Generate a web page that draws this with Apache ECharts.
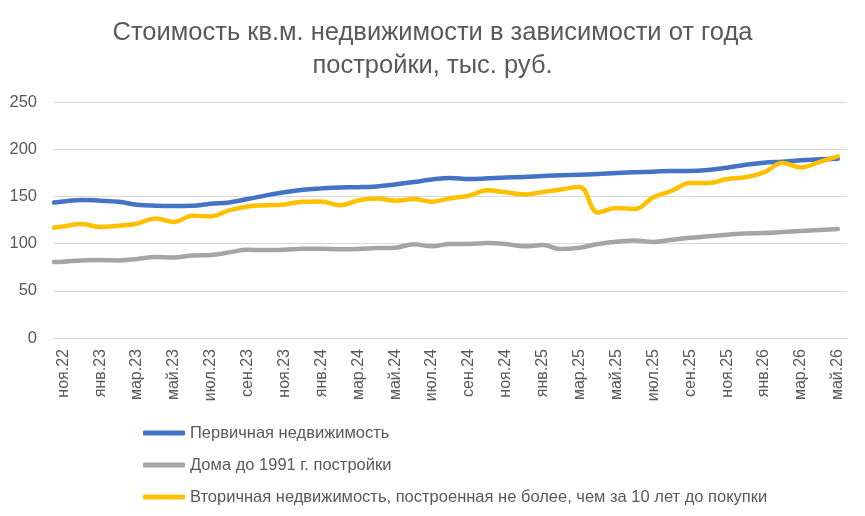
<!DOCTYPE html>
<html><head><meta charset="utf-8">
<script src="https://cdn.jsdelivr.net/npm/echarts@6/dist/echarts.min.js"></script>
<style>html,body{margin:0;padding:0;background:#fff}#c{width:865px;height:516px}</style>
</head><body><div id="c"></div>
<script>
const months = ['ноя.22','дек.22','янв.23','фев.23','мар.23','апр.23','май.23','июн.23','июл.23','авг.23','сен.23','окт.23','ноя.23','дек.23','янв.24','фев.24','мар.24','апр.24','май.24','июн.24','июл.24','авг.24','сен.24','окт.24','ноя.24','дек.24','янв.25','фев.25','мар.25','апр.25','май.25','июн.25','июл.25','авг.25','сен.25','окт.25','ноя.25','дек.25','янв.26','фев.26','мар.26','апр.26','май.26'];
const yTicks = [0, 50, 100, 150, 200, 250];
const seriesNames = ['Первичная недвижимость', 'Дома до 1991 г. постройки', 'Вторичная недвижимость, построенная не более, чем за 10 лет до покупки'];
// first value = start of the line at the left edge of the plot, then one value per month
const primary = [143.6, 144.7, 146.3, 145.5, 144.3, 141.2, 140.1, 139.8, 140.1, 142.3, 143.6, 147.2, 151.1, 154.3, 157.1, 158.5, 159.5, 159.8, 160.6, 162.7, 165.2, 168, 169.5, 168.4, 169.1, 170.1, 170.5, 171.6, 172.3, 173, 173.7, 174.8, 175.5, 176.2, 176.9, 176.9, 178, 180.4, 183.6, 185.7, 186.8, 188.2, 189.3, 189.9];
const old1991 = [80.5, 80.8, 82.2, 82.5, 82.2, 83.7, 85.8, 85.4, 87.5, 87.9, 90.7, 93.5, 93.2, 93.5, 94.6, 94.6, 93.9, 94.2, 95.3, 95.7, 99.2, 97.1, 99.6, 99.6, 100.6, 99.6, 97.1, 98.5, 94.2, 95.7, 99.6, 102, 103.4, 101.7, 104.1, 106.2, 107.7, 109.4, 110.8, 111.2, 112.3, 113.4, 114.4, 115.5];
const secondary = [116.8, 118.2, 120.8, 117.6, 119, 121.1, 126.7, 122.9, 129.6, 128.8, 135.2, 139.4, 140.5, 141.5, 144.4, 144.7, 140.5, 145.8, 147.9, 145.4, 147.2, 144.4, 148, 150.7, 156.4, 154.3, 152.1, 154.6, 157.4, 159.9, 133, 137.7, 136.6, 149, 156, 164.2, 164.2, 168.4, 170.2, 175.4, 185.4, 180.7, 186.4, 192.4];
const colors = ['#4472C4', '#A5A5A5', '#FFC000'];

const positions = [-0.5].concat(months.map((m, i) => i));
const FONT = 'Liberation Sans';
const TXT = '#595959';
const pairs = vals => vals.map((v, i) => [positions[i], v]);

const chart = echarts.init(document.getElementById('c'), null, {renderer: 'canvas'});
chart.setOption({
  animation: false,
  title: {
    text: 'Стоимость кв.м. недвижимости в зависимости от года\nпостройки, тыс. руб.',
    left: 'center', top: 11,
    textStyle: {fontFamily: FONT, fontSize: 25.5, fontWeight: 'normal', color: TXT, lineHeight: 33}
  },
  grid: {left: 54, right: 18, top: 102, bottom: 178},
  legend: {
    orient: 'vertical', left: 143, top: 424, padding: 0,
    itemWidth: 42, itemHeight: 5, itemGap: 14, icon: 'roundRect',
    textStyle: {fontFamily: FONT, fontSize: 16.5, color: TXT, lineHeight: 18},
    data: seriesNames
  },
  xAxis: [{
    type: 'category', data: months, boundaryGap: true,
    axisLine: {lineStyle: {color: '#D9D9D9', width: 1}},
    axisTick: {interval: 1, length: 5, lineStyle: {color: '#D9D9D9'}},
    axisLabel: {interval: 1, rotate: 90, color: TXT, fontFamily: FONT, fontSize: 16, margin: 11},
    splitLine: {show: false}
  }, {
    type: 'value', min: -0.5, max: months.length - 0.5, show: false
  }],
  yAxis: {
    type: 'value', min: yTicks[0], max: yTicks[yTicks.length - 1], interval: yTicks[1] - yTicks[0],
    axisLine: {show: false}, axisTick: {show: false},
    axisLabel: {color: TXT, fontFamily: FONT, fontSize: 16.5, margin: 17},
    splitLine: {lineStyle: {color: '#D9D9D9', width: 1}}
  },
  series: [primary, old1991, secondary].map((vals, k) => ({
    name: seriesNames[k], type: 'line', xAxisIndex: 1,
    data: pairs(vals), smooth: 0.4, showSymbol: false, symbol: 'none',
    itemStyle: {color: colors[k]},
    lineStyle: {color: colors[k], width: 4.5, cap: 'round', join: 'round'}
  }))
});
</script></body></html>
